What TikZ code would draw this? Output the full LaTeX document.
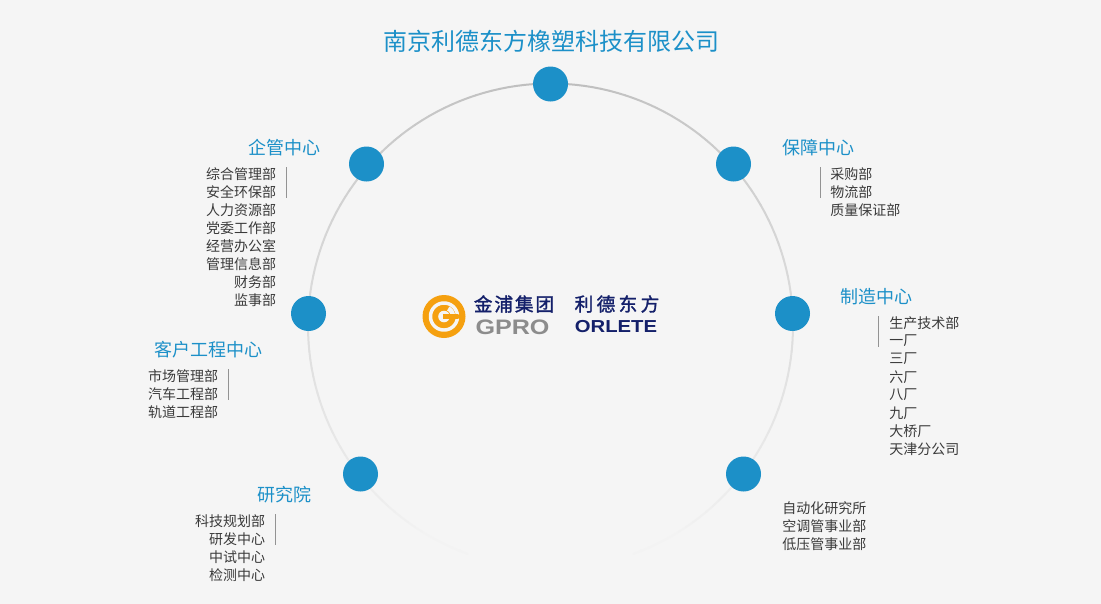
\documentclass[tikz,border=0pt]{standalone}
\usepackage{fontspec}
\setmainfont{Noto Sans CJK SC}
\newfontfamily\latinlogo{Liberation Sans}
\newfontfamily\cnlogoa[LetterSpace=10,FakeBold=1.5]{Noto Sans CJK SC}
\newfontfamily\cnlogob[LetterSpace=18,FakeBold=1.5]{Noto Sans CJK SC}
\definecolor{bgc}{HTML}{F5F5F5}
\definecolor{blu}{HTML}{1C90C8}
\definecolor{txt}{HTML}{3A3A3A}
\definecolor{navy}{HTML}{14206A}
\definecolor{gpg}{HTML}{8C8C8C}
\definecolor{org}{HTML}{F5A00F}
\tikzset{
 dot/.style={circle,fill=blu,draw=none,minimum size=35*0.75pt,inner sep=0pt},
 head/.style={inner sep=0pt,text=blu,font=\fontsize{13.5pt}{16pt}\selectfont},
 item/.style={inner sep=0pt,text=txt,font=\fontsize{10.5pt}{13pt}\selectfont},
 rule/.style={draw=gray!85,line width=0.6pt},
 ringseg/.style={line width=1.5pt,line cap=round}
}
\begin{document}
\begin{tikzpicture}[x=0.75pt,y=-0.75pt]
\useasboundingbox[fill=bgc] (0,0) rectangle (1101,604);
% ring with fading colour
\foreach \a in {158,156,...,0}{
  \pgfmathsetmacro{\g}{min(0.952,0.74+0.2*\a/140)}
  \definecolor{ringc}{gray}{\g}
  \pgfmathsetmacro{\b}{\a+2}
  \draw[ringseg,ringc] ({550.5+242.5*sin(\a)},{326-242.5*cos(\a)}) -- ({550.5+242.5*sin(\b)},{326-242.5*cos(\b)});
  \draw[ringseg,ringc] ({550.5-242.5*sin(\a)},{326-242.5*cos(\a)}) -- ({550.5-242.5*sin(\b)},{326-242.5*cos(\b)});
}
\node[dot] (top) at (550.5,84) {};
\node[dot] (qg) at (366.5,164) {};
\node[dot] (bz) at (733.5,164) {};
\node[dot] (kh) at (308.5,313.5) {};
\node[dot] (zz) at (792.5,313.5) {};
\node[dot] (yj) at (360.5,474) {};
\node[dot] (zd) at (743.5,474) {};
\node[inner sep=0pt,text=blu,font=\fontsize{18pt}{22pt}\selectfont] (title) at (551.5,41) {南京利德东方橡塑科技有限公司};
% headings
\node[head,anchor=east] (h1) at (320.5,148) {企管中心};
\node[head,anchor=west] (h2) at (782,148) {保障中心};
\node[head,anchor=west] (h3) at (840,297) {制造中心};
\node[head,anchor=east] (h4) at (262.5,350) {客户工程中心};
\node[head,anchor=east] (h5) at (311.5,495) {研究院};
% lists
\foreach \t [count=\i from 0] in {综合管理部,安全环保部,人力资源部,党委工作部,经营办公室,管理信息部,财务部,监事部}
  \node[item,anchor=east] (a\i) at (276.3,174+18*\i) {\t};
\foreach \t [count=\i from 0] in {采购部,物流部,质量保证部}
  \node[item,anchor=west] (b\i) at (830,174+18*\i) {\t};
\foreach \t [count=\i from 0] in {生产技术部,一厂,三厂,六厂,八厂,九厂,大桥厂,天津分公司}
  \node[item,anchor=west] (c\i) at (889,323+18*\i) {\t};
\foreach \t [count=\i from 0] in {市场管理部,汽车工程部,轨道工程部}
  \node[item,anchor=east] (d\i) at (218.3,376+18*\i) {\t};
\foreach \t [count=\i from 0] in {科技规划部,研发中心,中试中心,检测中心}
  \node[item,anchor=east] (e\i) at (265.3,521+18*\i) {\t};
\foreach \t [count=\i from 0] in {自动化研究所,空调管事业部,低压管事业部}
  \node[item,anchor=west] (f\i) at (782,508+18*\i) {\t};
% rules
\draw[rule] (286.5,167) -- (286.5,198);
\draw[rule] (820.5,167) -- (820.5,198);
\draw[rule] (878.5,316) -- (878.5,347);
\draw[rule] (228.5,369) -- (228.5,400);
\draw[rule] (275.5,514) -- (275.5,545);
% logo mark
\fill[org] (444,316.5) circle[radius=21.5];
\draw[bgc,line width=2.6pt] plot[domain=8:352,samples=60] ({444+13.5*cos(\x)},{316.5-13.5*sin(\x)});
\fill[bgc] (444,316.5) circle[radius=5.8];
\draw[bgc,line width=3.4pt] plot[domain=14:62,samples=12] ({444+9*cos(\x)},{316.5-9*sin(\x)});
\fill[org] (443,314) rectangle (458,318.8);
% logo text
\node[inner sep=0pt,text=navy,font=\cnlogoa\fontsize{14pt}{16pt}\selectfont] (l1) at (514,304) {金浦集团};
\node[inner sep=0pt,text=navy,font=\cnlogob\fontsize{14pt}{16pt}\selectfont] (l2) at (617,304) {利德东方};
\node[inner sep=0pt,text=gpg,xscale=1.2,font=\latinlogo\bfseries\fontsize{15.7pt}{16pt}\selectfont] (l3) at (512.5,327.5) {GPRO};
\node[inner sep=0pt,text=navy,xscale=1.17,font=\latinlogo\bfseries\fontsize{13pt}{16pt}\selectfont] (l4) at (616,327) {ORLETE};
\end{tikzpicture}
\end{document}
